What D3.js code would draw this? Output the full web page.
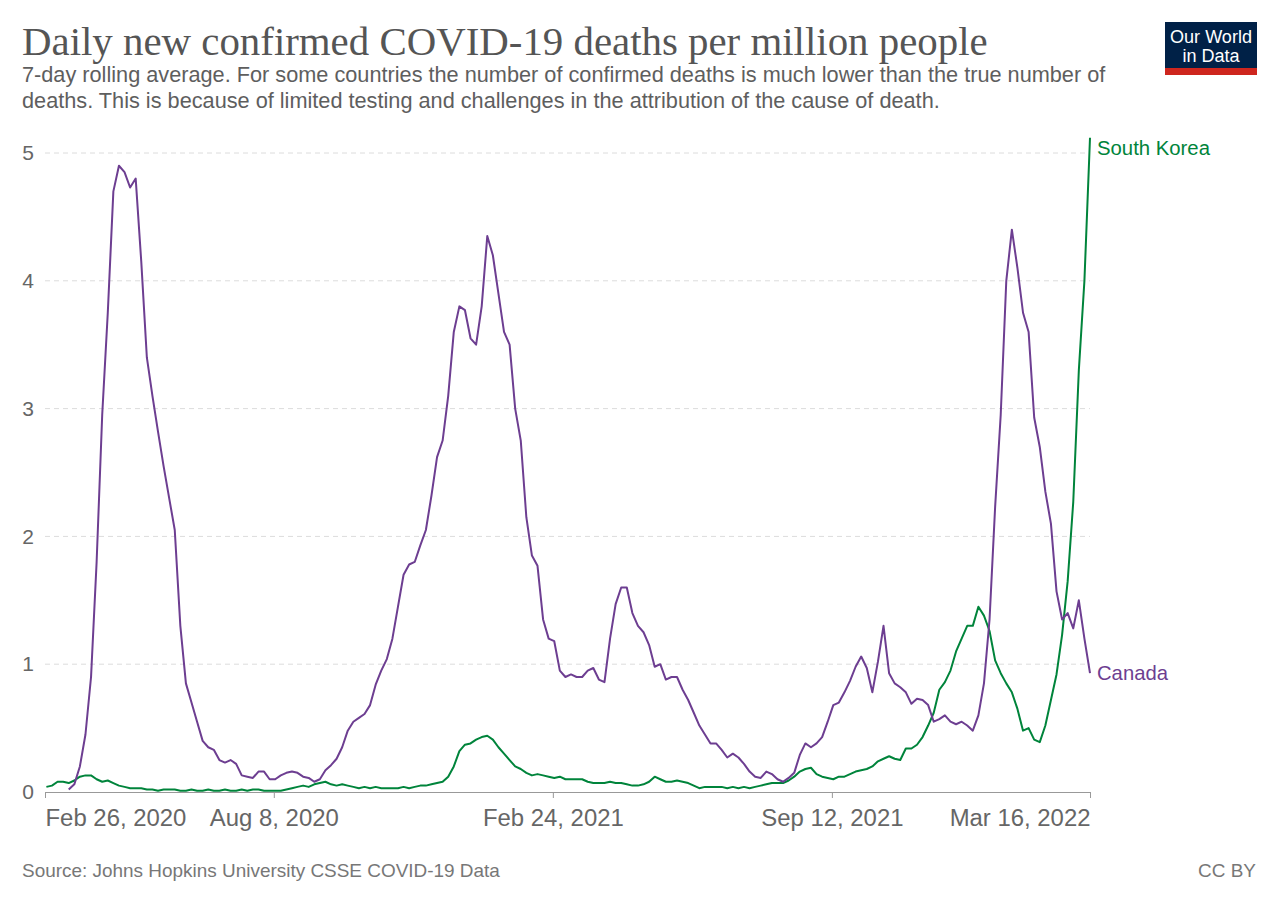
<!DOCTYPE html>
<html><head><meta charset="utf-8">
<script src="https://cdn.jsdelivr.net/npm/d3@7/dist/d3.min.js"></script>
<style>body{margin:0;background:#fff}svg{display:block}</style>
</head><body>
<svg id="chart" width="1280" height="904"></svg>
<script>
// ---------- DATA ----------
const startDate = "2020-02-26";
const endDate = "2022-03-16";
const sampleEveryDays = 4;     // readings taken every 4 days, first one 1 day after start
const firstSampleOffset = 1;

const seriesNames = ["South Korea", "Canada"];

const canadaValues = [
  null,null,null,null,0.02,0.06,0.2,0.45,0.9,1.8,
  2.95,3.75,4.7,4.9,4.85,4.73,4.8,4.15,3.4,3.1,
  2.82,2.55,2.3,2.05,1.3,0.85,0.7,0.55,0.4,0.35,
  0.33,0.25,0.23,0.25,0.22,0.13,0.12,0.11,0.16,0.16,
  0.1,0.1,0.13,0.15,0.16,0.15,0.12,0.11,0.08,0.1,
  0.17,0.21,0.26,0.35,0.48,0.55,0.58,0.61,0.68,0.84,
  0.95,1.04,1.2,1.45,1.7,1.78,1.8,1.93,2.05,2.32,
  2.62,2.75,3.1,3.6,3.8,3.77,3.55,3.5,3.8,4.35,
  4.2,3.9,3.6,3.5,3.0,2.75,2.15,1.85,1.77,1.35,
  1.2,1.18,0.95,0.9,0.92,0.9,0.9,0.95,0.97,0.88,
  0.86,1.2,1.47,1.6,1.6,1.4,1.3,1.25,1.15,0.98,
  1.0,0.88,0.9,0.9,0.8,0.72,0.62,0.52,0.45,0.38,
  0.38,0.33,0.27,0.3,0.27,0.22,0.16,0.12,0.11,0.16,
  0.14,0.1,0.08,0.11,0.15,0.29,0.38,0.35,0.38,0.43,
  0.55,0.68,0.7,0.78,0.87,0.98,1.06,0.97,0.78,1.02,
  1.3,0.93,0.85,0.82,0.78,0.69,0.73,0.72,0.68,0.55,
  0.57,0.6,0.55,0.53,0.55,0.52,0.48,0.6,0.85,1.35,
  2.23,2.95,4.0,4.4,4.1,3.75,3.6,2.93,2.7,2.35,
  2.1,1.57,1.35,1.4,1.28,1.5,1.2,0.93
];

const southKoreaValues = [
  0.04,0.05,0.08,0.08,0.07,0.09,0.12,0.13,0.13,0.1,
  0.08,0.09,0.07,0.05,0.04,0.03,0.03,0.03,0.02,0.02,
  0.01,0.02,0.02,0.02,0.01,0.01,0.02,0.01,0.01,0.02,
  0.01,0.01,0.02,0.01,0.01,0.02,0.01,0.02,0.02,0.01,
  0.01,0.01,0.01,0.02,0.03,0.04,0.05,0.04,0.06,0.07,
  0.08,0.06,0.05,0.06,0.05,0.04,0.03,0.04,0.03,0.04,
  0.03,0.03,0.03,0.03,0.04,0.03,0.04,0.05,0.05,0.06,
  0.07,0.08,0.12,0.2,0.32,0.37,0.38,0.41,0.43,0.44,
  0.41,0.35,0.3,0.25,0.2,0.18,0.15,0.13,0.14,0.13,
  0.12,0.11,0.12,0.1,0.1,0.1,0.1,0.08,0.07,0.07,
  0.07,0.08,0.07,0.07,0.06,0.05,0.05,0.06,0.08,0.12,
  0.1,0.08,0.08,0.09,0.08,0.07,0.05,0.03,0.04,0.04,
  0.04,0.04,0.03,0.04,0.03,0.04,0.03,0.04,0.05,0.06,
  0.07,0.07,0.07,0.09,0.12,0.16,0.18,0.19,0.14,0.12,
  0.11,0.1,0.12,0.12,0.14,0.16,0.17,0.18,0.2,0.24,
  0.26,0.28,0.26,0.25,0.34,0.34,0.37,0.43,0.52,0.62,
  0.8,0.86,0.95,1.1,1.2,1.3,1.3,1.45,1.38,1.26,
  1.03,0.93,0.85,0.78,0.65,0.48,0.5,0.41,0.39,0.52,
  0.72,0.92,1.23,1.65,2.27,3.3,4.0,5.12
];

const xTickDates = ["2020-02-26","2020-08-08","2021-02-24","2021-09-12","2022-03-16"];
const yTickValues = [0,1,2,3,4,5];

// ---------- CHART ----------
const svg = d3.select("#chart");
const parse = d3.utcParse("%Y-%m-%d");
const fmt = d3.utcFormat("%b %-d, %Y");
const t0 = parse(startDate), t1 = parse(endDate);
const dateAt = i => d3.utcDay.offset(t0, firstSampleOffset + sampleEveryDays * i);

const plot = {left: 45, right: 1090, top: 153, bottom: 792};
const x = d3.scaleUtc().domain([t0, t1]).range([plot.left, plot.right]);
const y = d3.scaleLinear().domain([0, 5]).range([plot.bottom, plot.top]);

const colors = {"Canada": "#6d3e91", "South Korea": "#00843b"};
const sans = "'Liberation Sans', Arial, sans-serif";

function fit(sel, target) {
  const w = sel.node().getComputedTextLength();
  const fs = parseFloat(sel.attr("font-size"));
  const nf = fs * target / w;
  sel.attr("font-size", nf);
  return nf;
}

// Title
const title = svg.append("text").attr("x", 22).attr("y", 55)
  .attr("font-family", "'Liberation Serif', 'DejaVu Serif', serif")
  .attr("font-size", 38).attr("fill", "#555")
  .text("Daily new confirmed COVID-19 deaths per million people");
fit(title, 966);

// Subtitle
const sub1 = svg.append("text").attr("x", 22).attr("y", 82)
  .attr("font-family", sans).attr("font-size", 19).attr("fill", "#5e5e5e")
  .text("7-day rolling average. For some countries the number of confirmed deaths is much lower than the true number of");
const subSize = fit(sub1, 1084);
svg.append("text").attr("x", 22).attr("y", 108)
  .attr("font-family", sans).attr("font-size", subSize).attr("fill", "#5e5e5e")
  .text("deaths. This is because of limited testing and challenges in the attribution of the cause of death.");

// Logo
const logo = svg.append("g");
logo.append("rect").attr("x", 1165).attr("y", 22).attr("width", 92).attr("height", 53).attr("fill", "#002147");
logo.append("rect").attr("x", 1165).attr("y", 68).attr("width", 92).attr("height", 7).attr("fill", "#ce261e");
const l1 = logo.append("text").attr("x", 1211).attr("y", 43).attr("text-anchor", "middle")
  .attr("font-family", sans).attr("font-size", 16).attr("fill", "#fff").text("Our World");
const lsize = fit(l1, 82);
logo.append("text").attr("x", 1211).attr("y", 62).attr("text-anchor", "middle")
  .attr("font-family", sans).attr("font-size", lsize).attr("fill", "#fff").text("in Data");

// Grid lines
const grid = svg.append("g");
grid.selectAll("line").data(yTickValues.filter(v => v > 0)).join("line")
  .attr("x1", plot.left).attr("x2", plot.right)
  .attr("y1", d => y(d)).attr("y2", d => y(d))
  .attr("stroke", "#dcdcdc").attr("stroke-dasharray", "5,4").attr("stroke-width", 1);

// Y axis labels
const yAxis = d3.axisLeft(y).tickValues(yTickValues).tickSize(0).tickFormat(d3.format("d"));
const yg = svg.append("g").attr("transform", `translate(${plot.left - 8},0)`).call(yAxis);
yg.select(".domain").remove();
yg.selectAll("text").attr("font-family", sans).attr("font-size", 21).attr("fill", "#666").attr("dx", 0);

// X axis
const xAxis = d3.axisBottom(x).tickValues(xTickDates.map(parse)).tickSize(6).tickSizeOuter(0).tickFormat(fmt);
const xg = svg.append("g").attr("transform", `translate(0,${plot.bottom})`).call(xAxis);
xg.select(".domain").attr("stroke", "#999");
xg.selectAll(".tick line").attr("stroke", "#999");
const xt = xg.selectAll(".tick text").attr("font-family", sans).attr("font-size", 21)
  .attr("fill", "#666").attr("y", 12).attr("dy", "0.9em");
const firstLabel = d3.select(xt.nodes()[0]);
const xs = fit(firstLabel, 141);
xt.attr("font-size", xs);
firstLabel.attr("text-anchor", "start");
d3.select(xt.nodes()[xt.size() - 1]).attr("text-anchor", "end");

// Lines
const series = [
  {name: "South Korea", values: southKoreaValues},
  {name: "Canada", values: canadaValues}
];
const line = d3.line()
  .defined(d => d.v !== null)
  .x(d => x(d.date)).y(d => y(d.v));

const clipId = "plotclip";
svg.append("clipPath").attr("id", clipId).append("rect")
  .attr("x", plot.left - 2).attr("y", 120).attr("width", plot.right - plot.left + 4).attr("height", plot.bottom - 118);

svg.append("g").attr("clip-path", `url(#${clipId})`)
  .selectAll("path").data(series).join("path")
  .attr("d", s => line(s.values.map((v, i) => ({date: dateAt(i), v}))))
  .attr("fill", "none").attr("stroke", s => colors[s.name])
  .attr("stroke-width", 2).attr("stroke-linejoin", "round");

// End labels
const labelSizes = {"South Korea": 113, "Canada": 71};
series.forEach(s => {
  const last = s.values[s.values.length - 1];
  const ly = Math.max(y(last), 148);
  const t = svg.append("text").attr("x", 1097).attr("y", ly).attr("dy", "0.35em")
    .attr("font-family", sans).attr("font-size", 19).attr("fill", colors[s.name]).text(s.name);
  fit(t, labelSizes[s.name]);
});

// Footer
const src = svg.append("text").attr("x", 22).attr("y", 877)
  .attr("font-family", sans).attr("font-size", 17).attr("fill", "#777")
  .text("Source: Johns Hopkins University CSSE COVID-19 Data");
const fs = fit(src, 478);
svg.append("text").attr("x", 1256).attr("y", 877).attr("text-anchor", "end")
  .attr("font-family", sans).attr("font-size", fs).attr("fill", "#777").text("CC BY");
</script>
</body></html>
